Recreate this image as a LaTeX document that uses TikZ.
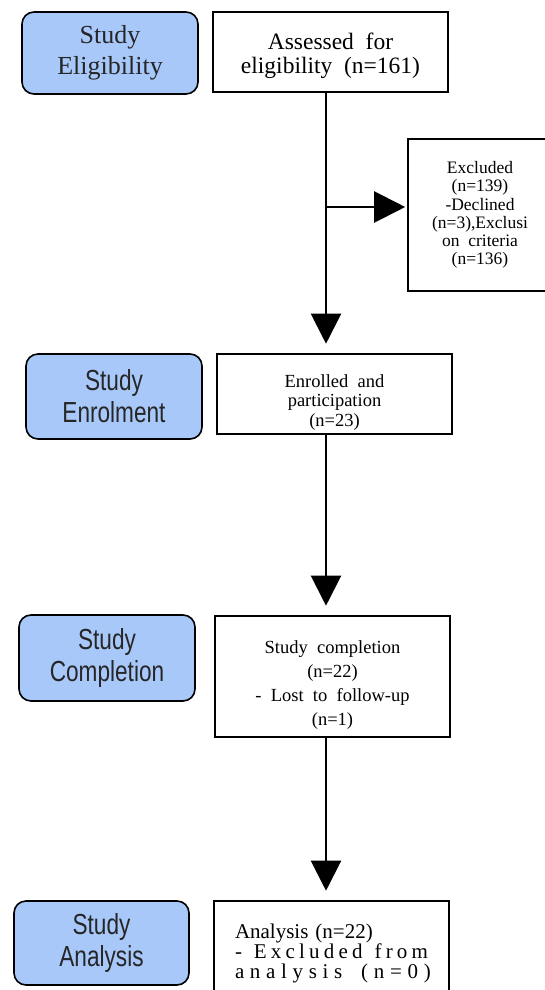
\documentclass[tikz,border=0pt]{standalone}
\usepackage{fontspec}
\setmainfont{Liberation Serif}
\newfontfamily\stagefont[FakeStretch=0.78]{Liberation Sans}
\newfontfamily\spreadfont[LetterSpace=20]{Liberation Serif}
\newfontfamily\widerfont[LetterSpace=27]{Liberation Serif}
\usetikzlibrary{arrows.meta}
\definecolor{stageblue}{RGB}{168,200,250}
\newcommand{\widesp}{\spaceskip=0.5em\relax}
\newcommand{\sunk}[2]{\raisebox{-#1}[\height][\depth]{\begin{tabular}{@{}c@{}}#2\end{tabular}}}
\tikzset{%
  stagenode/.style = {shape=rectangle, rounded corners=12pt, draw, line width=1.6pt,%
                      fill=stageblue, align=center, minimum width=176pt, inner sep=0pt,%
                      text=black!85, font=\stagefont\fontsize{29}{32}\selectfont},%
  serifstage/.style = {stagenode, font=\fontsize{26}{31}\selectfont\widesp},%
  flownode/.style  = {shape=rectangle, draw, line width=1.6pt, fill=white,%
                      align=center, minimum width=235pt, inner sep=0pt},%
  flow/.style      = {line width=2.2pt, shorten >=9.5pt,%
                      -{Triangle[length=30pt,width=30pt]}}%
}
\begin{document}
\begin{tikzpicture}[x=1pt, y=-1pt]
  \fill[white] (0,0) rectangle (545,990);
  \useasboundingbox (0,0) rectangle (545,990);
  \clip (0,0) rectangle (545,990);
  \node[serifstage, minimum height=82pt] (seligible) at (110,53) {Study\\Eligibility};
  \node[stagenode, minimum height=85pt] (senrol) at (114,396.5) {Study\\Enrolment};
  \node[stagenode, minimum height=86pt] (scomplete) at (107,658) {Study\\Completion};
  \node[stagenode, minimum height=84pt, minimum width=175pt] (sanalysis) at (101.5,943) {Study\\Analysis};
  \node[flownode, minimum height=80pt, font=\fontsize{23.5}{24}\selectfont\widesp] (assess) at (330.5,52)
    {\sunk{5pt}{Assessed for\\eligibility (n=161)}};
  \node[flownode, minimum width=144pt, minimum height=152pt, font=\fontsize{17.5}{18.2}\selectfont\widesp] (excl) at (480,215)
    {Excluded\\(n=139)\\-Declined\\(n=3),Exclusi\\on criteria\\(n=136)};
  \node[flownode, minimum height=80pt, font=\fontsize{18.5}{19.5}\selectfont\widesp] (enrol) at (334.5,394)
    {\sunk{9pt}{Enrolled and\\participation\\(n=23)}};
  \node[flownode, minimum height=121pt, font=\fontsize{18.5}{24}\selectfont\widesp] (complete) at (332.5,676.5)
    {\sunk{8pt}{Study completion\\(n=22)\\- Lost to follow-up\\(n=1)}};
  \node[flownode, minimum height=104pt, text width=193pt, inner xsep=21pt, align=left,%
        font=\fontsize{21}{20}\selectfont\widesp] (analysis) at (331.5,953)
    {Analysis (n=22)\\%
     \makebox[193pt][s]{\spreadfont -\hspace{0.5em plus 1fil}Excluded\hspace{0.5em plus 1fil}from}\\%
     {\widerfont analysis\hspace{0.9em}(n=0)}};
  \coordinate (trunk) at (326,0);
  \coordinate (branch) at (326,207);
  \draw[flow] (assess.south -| trunk) -- (enrol.north -| trunk);
  \draw[flow, shorten >=2pt, -{Triangle[length=31pt,width=31pt]}] (branch) -- (branch -| excl.west);
  \draw[flow] (enrol.south -| trunk) -- (complete.north -| trunk);
  \draw[flow] (complete.south -| trunk) -- (analysis.north -| trunk);
\end{tikzpicture}
\end{document}
